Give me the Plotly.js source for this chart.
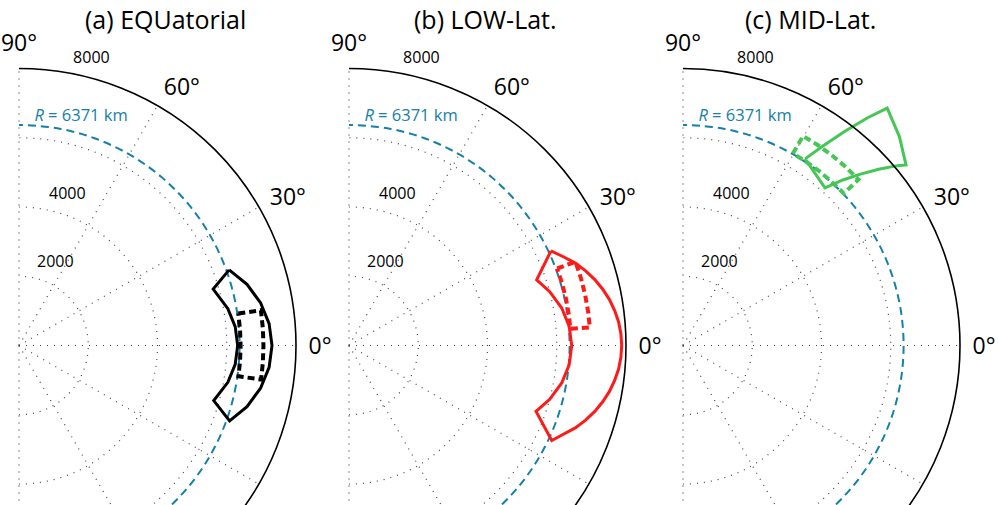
<!DOCTYPE html>
<html><head><meta charset="utf-8">
<script src="https://cdn.plot.ly/plotly-3.0.1.min.js"></script>
<style>
html,body{margin:0;padding:0;overflow:hidden;background:#fff}
#wrap{width:998px;height:505px;overflow:hidden;position:relative}
#chart{width:998px;height:720px}
</style></head>
<body><div id="wrap"><div id="chart"></div></div>
<script>
// ---------------- data ----------------
const panelTitles = ['(a) EQUatorial', '(b) LOW-Lat.', '(c) MID-Lat.'];
const angGridVals = [-90, -60, -30, 0, 30, 60, 90];
const angLabelVals = [0, 30, 60, 90];
const angLabelText = ['0°', '30°', '60°', '90°'];
const radGridVals = [2000, 4000, 6000];
const radLabelVals = [2000, 4000, 8000];
const radLabelText = ['2000', '4000', '8000'];
const radialMax = 8000;
const earthRadius = 6371;
const earthLabel = '<i>R</i> = 6371 km';
const earthTheta = [-90,-80,-70,-60,-50,-40,-30,-20,-10,0,10,20,30,40,50,60,70,80,90];

// (a) equatorial region (km, deg)
const eqSolidR     = [6450, 6817, 7086, 7251, 7307, 7251, 7086, 6817, 6460, 5845, 6125, 6268, 6316, 6268, 6125, 5840, 6450];
const eqSolidTheta = [19.8, 15, 10, 5, 0, -5, -10, -15, -19.7, -15.8, -10, -5, 0, 5, 10, 16.2, 19.8];
const eqDashR      = [6400, 7060, 7060, 7060, 7060, 7060, 6400, 6400, 6400, 6400, 6400];
const eqDashTheta  = [8.3, 8.3, 4, 0, -4, -8, -8, -4, 0, 4, 8.3];

// (b) low-latitude region
const lowSolidR     = [6440, 6700, 6955, 7165, 7349, 7505, 7638, 7738, 7816, 7860, 7876, 7860, 7816, 7738, 7638, 7505, 7349, 7165, 6955, 6700, 6466, 5727, 6001, 6238, 6383, 6432, 6383, 6238, 6001, 5743, 6440];
const lowSolidTheta = [25.1, 22.5, 20, 17.5, 15, 12.5, 10, 7.5, 5, 2.5, 0, -2.5, -5, -7.5, -10, -12.5, -15, -17.5, -20, -22.5, -25.1, -19.4, -15, -10, -5, 0, 5, 10, 15, 19.3, 25.1];
const lowDashR      = [6410, 6975, 6975, 6975, 6975, 6975, 6410, 6410, 6410, 6410, 6410];
const lowDashTheta  = [20.3, 20.3, 16, 12, 8, 4.3, 4.3, 8, 12, 16, 20.3];

// (c) mid-latitude region
const midSolidR     = [6441, 7024, 7733, 8455, 9043, 8687, 8289, 8081, 7605, 7126, 6645, 6129, 6441];
const midSolidTheta = [56.8, 55, 53, 51, 49.3, 44.0, 39.0, 40, 42, 44, 46, 48.0, 56.8];
const midDashR      = [6390, 6975, 6975, 6975, 6975, 6975, 6390, 6390, 6390, 6390, 6390];
const midDashTheta  = [60.2, 60.2, 56, 52, 48, 43.4, 43.4, 48, 52, 56, 60.2];

// ---------------- styles / layout ----------------
const FONT = 'Open Sans, Noto Sans, sans-serif';
const W = 998, H = 720;
const CY = 345.5, RPX = 277;
const centersX = [19, 349, 683];
const EARTH_COLOR = '#1580a8';
const GRID_COLOR = '#444';
const GRID_DASH = '1px,6px';
const RLABEL_ANGLE = 80;
const ELABEL_ANGLE = 86;
const colors = ['#000000', '#ff1a1a', '#46c655'];
const ARC_RANGE = 8100;                       // overlay range so the 8000 km circle is drawn as a grid arc
const ARC_PX = RPX * ARC_RANGE / radialMax;   // same km-per-pixel scale as the main subplot

function dom(cx, rpx) {
  return {x: [cx / W, (cx + rpx) / W], y: [1 - (CY + rpx) / H, 1 - (CY - rpx) / H]};
}

function polarMain(cx) {
  return {
    domain: dom(cx, RPX),
    sector: [-90, 90],
    bgcolor: 'rgba(0,0,0,0)',
    radialaxis: {
      range: [0, radialMax], tickmode: 'array', tickvals: radGridVals,
      showticklabels: false, ticks: '', showline: false,
      showgrid: true, gridcolor: GRID_COLOR, griddash: GRID_DASH, gridwidth: 1.2
    },
    angularaxis: {
      tickmode: 'array', tickvals: angGridVals, showticklabels: false,
      direction: 'counterclockwise', rotation: 0,
      showline: false, ticks: '',
      showgrid: true, gridcolor: GRID_COLOR, griddash: GRID_DASH, gridwidth: 1.2
    }
  };
}

// overlay: outer 8000 km arc + angular labels + text labels
function polarArc(cx) {
  return {
    domain: dom(cx, ARC_PX),
    sector: [-90, 90],
    bgcolor: 'rgba(0,0,0,0)',
    radialaxis: {
      range: [0, ARC_RANGE], tickmode: 'array', tickvals: [radialMax],
      showticklabels: false, ticks: '', showline: false,
      showgrid: true, gridcolor: '#000', griddash: 'solid', gridwidth: 1.6
    },
    angularaxis: {
      tickmode: 'array', tickvals: angLabelVals, ticktext: angLabelText,
      direction: 'counterclockwise', rotation: 0,
      showline: false, showgrid: false,
      ticks: 'outside', ticklen: 4, tickcolor: 'rgba(0,0,0,0)',
      tickfont: {family: FONT, size: 23, color: '#000'}
    }
  };
}

const traces = [];
const regions = [
  {sR: eqSolidR, sT: eqSolidTheta, dR: eqDashR, dT: eqDashTheta},
  {sR: lowSolidR, sT: lowSolidTheta, dR: lowDashR, dT: lowDashTheta},
  {sR: midSolidR, sT: midSolidTheta, dR: midDashR, dT: midDashTheta}
];

for (let i = 0; i < 3; i++) {
  const sp = i === 0 ? 'polar' : 'polar' + (i + 1);
  const spArc = 'polar' + (i + 5);
  traces.push({type: 'scatterpolar', subplot: sp, mode: 'lines',
    r: earthTheta.map(() => earthRadius), theta: earthTheta,
    line: {color: EARTH_COLOR, width: 2, dash: '8px,5px', shape: 'spline'}, hoverinfo: 'skip'});
  const g = regions[i];
  traces.push({type: 'scatterpolar', subplot: i === 2 ? 'polar4' : sp, mode: 'lines',
    r: g.sR, theta: g.sT, line: {color: colors[i], width: 3}, hoverinfo: 'skip'});
  traces.push({type: 'scatterpolar', subplot: sp, mode: 'lines',
    r: g.dR, theta: g.dT, line: {color: colors[i], width: 4, dash: '7px,4px'}, hoverinfo: 'skip'});
  traces.push({type: 'scatterpolar', subplot: spArc, mode: 'text', cliponaxis: false,
    r: [earthRadius], theta: [ELABEL_ANGLE], text: [earthLabel], textposition: 'top right',
    textfont: {family: FONT, size: 16.5, color: EARTH_COLOR}, hoverinfo: 'skip'});
  traces.push({type: 'scatterpolar', subplot: spArc, mode: 'markers+text', cliponaxis: false,
    r: radLabelVals, theta: radLabelVals.map(() => RLABEL_ANGLE), text: radLabelText,
    marker: {size: 8, opacity: 0}, textposition: 'top right',
    textfont: {family: FONT, size: 16, color: '#000'}, hoverinfo: 'skip'});
}

// overlay subplot for panel (c) solid region: same centre and scale, larger range
const R4MAX = 9600;
const R4PX = RPX * R4MAX / radialMax;
const cx3 = centersX[2];
const cos30 = Math.cos(Math.PI / 6);

const layout = {
  width: W, height: H,
  margin: {l: 0, r: 0, t: 0, b: 0},
  paper_bgcolor: '#fff',
  showlegend: false,
  font: {family: FONT, color: '#000'},
  polar: polarMain(centersX[0]),
  polar2: polarMain(centersX[1]),
  polar3: polarMain(centersX[2]),
  polar4: {
    domain: {x: [cx3 / W, (cx3 + R4PX * cos30) / W], y: [1 - CY / H, 1 - (CY - R4PX) / H]},
    sector: [30, 90],
    bgcolor: 'rgba(0,0,0,0)',
    radialaxis: {range: [0, R4MAX], visible: false},
    angularaxis: {visible: false, direction: 'counterclockwise', rotation: 0}
  },
  polar5: polarArc(centersX[0]),
  polar6: polarArc(centersX[1]),
  polar7: polarArc(centersX[2]),
  annotations: panelTitles.map((t, i) => ({
    text: t, xref: 'paper', yref: 'paper',
    x: [165, 485, 810][i] / W, y: 1 - 19 / H, xanchor: 'center', yanchor: 'middle',
    showarrow: false, font: {family: FONT, size: 25, color: '#000'}
  }))
};

Plotly.newPlot('chart', traces, layout, {staticPlot: true});
</script>
</body></html>
